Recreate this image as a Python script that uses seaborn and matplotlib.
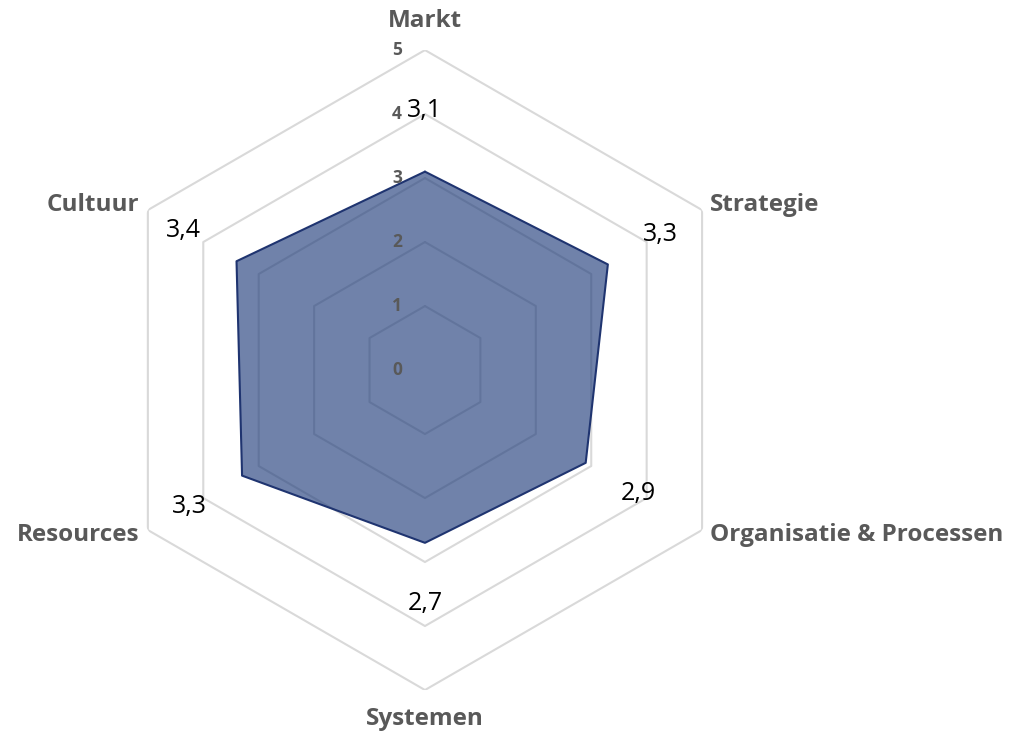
import numpy as np
import matplotlib
matplotlib.use("Agg")
import matplotlib.pyplot as plt
import seaborn as sns

# data
categorieen = ["Markt", "Strategie", "Organisatie & Processen", "Systemen", "Resources", "Cultuur"]
scores = [3.1, 3.3, 2.9, 2.7, 3.3, 3.4]
schaal = [0, 1, 2, 3, 4, 5]

sns.set_style("white")
plt.rcParams['font.family'] = ['Open Sans', 'DejaVu Sans']

n = len(categorieen)
hoeken = np.linspace(0, 2 * np.pi, n, endpoint=False)
hoeken_dicht = np.append(hoeken, hoeken[0])

fig = plt.figure(figsize=(10.18, 7.35), dpi=100)
ax = fig.add_axes([0.1031, 0.0612, 0.6287, 0.8707], projection='polar')
ax.set_theta_offset(np.pi / 2)
ax.set_theta_direction(-1)
ax.set_ylim(0, 5)
ax.set_frame_on(False)
ax.grid(False)
ax.set_xticks([])
ax.set_yticks([])

# hexagon rasterlijnen
for r in schaal[1:]:
    ax.plot(hoeken_dicht, [r] * (n + 1), color='#d9d9d9', lw=1.5, zorder=1)

# schaal labels
for r in schaal:
    ax.annotate(str(r), xy=(0, r), xytext=(-28, 0), textcoords='offset pixels',
                ha='center', va='center', fontsize=12.5, fontweight='bold',
                color='#595959', zorder=5)

# data
waarden = scores + [scores[0]]
ax.fill(hoeken_dicht, waarden, color='#1f3c7a', alpha=0.64, zorder=2, lw=0)
ax.plot(hoeken_dicht, waarden, color='#1f3470', lw=1.5, zorder=3)

# data labels
for h, v in zip(hoeken, scores):
    ax.text(h, v + 0.95, f"{v:.1f}".replace('.', ','), ha='center', va='center',
            fontsize=18, color='black', zorder=6)

# categorie labels
for h, naam in zip(hoeken, categorieen):
    s = np.sin(h)
    if abs(s) < 0.1:
        ax.text(h, 5.46, naam, ha='center', va='center', fontsize=17.5,
                fontweight='bold', color='#595959')
    else:
        ax.text(h, 5.15, naam, ha='left' if s > 0 else 'right', va='center',
                fontsize=17.5, fontweight='bold', color='#595959')

fig.savefig("out.png", dpi=100)
